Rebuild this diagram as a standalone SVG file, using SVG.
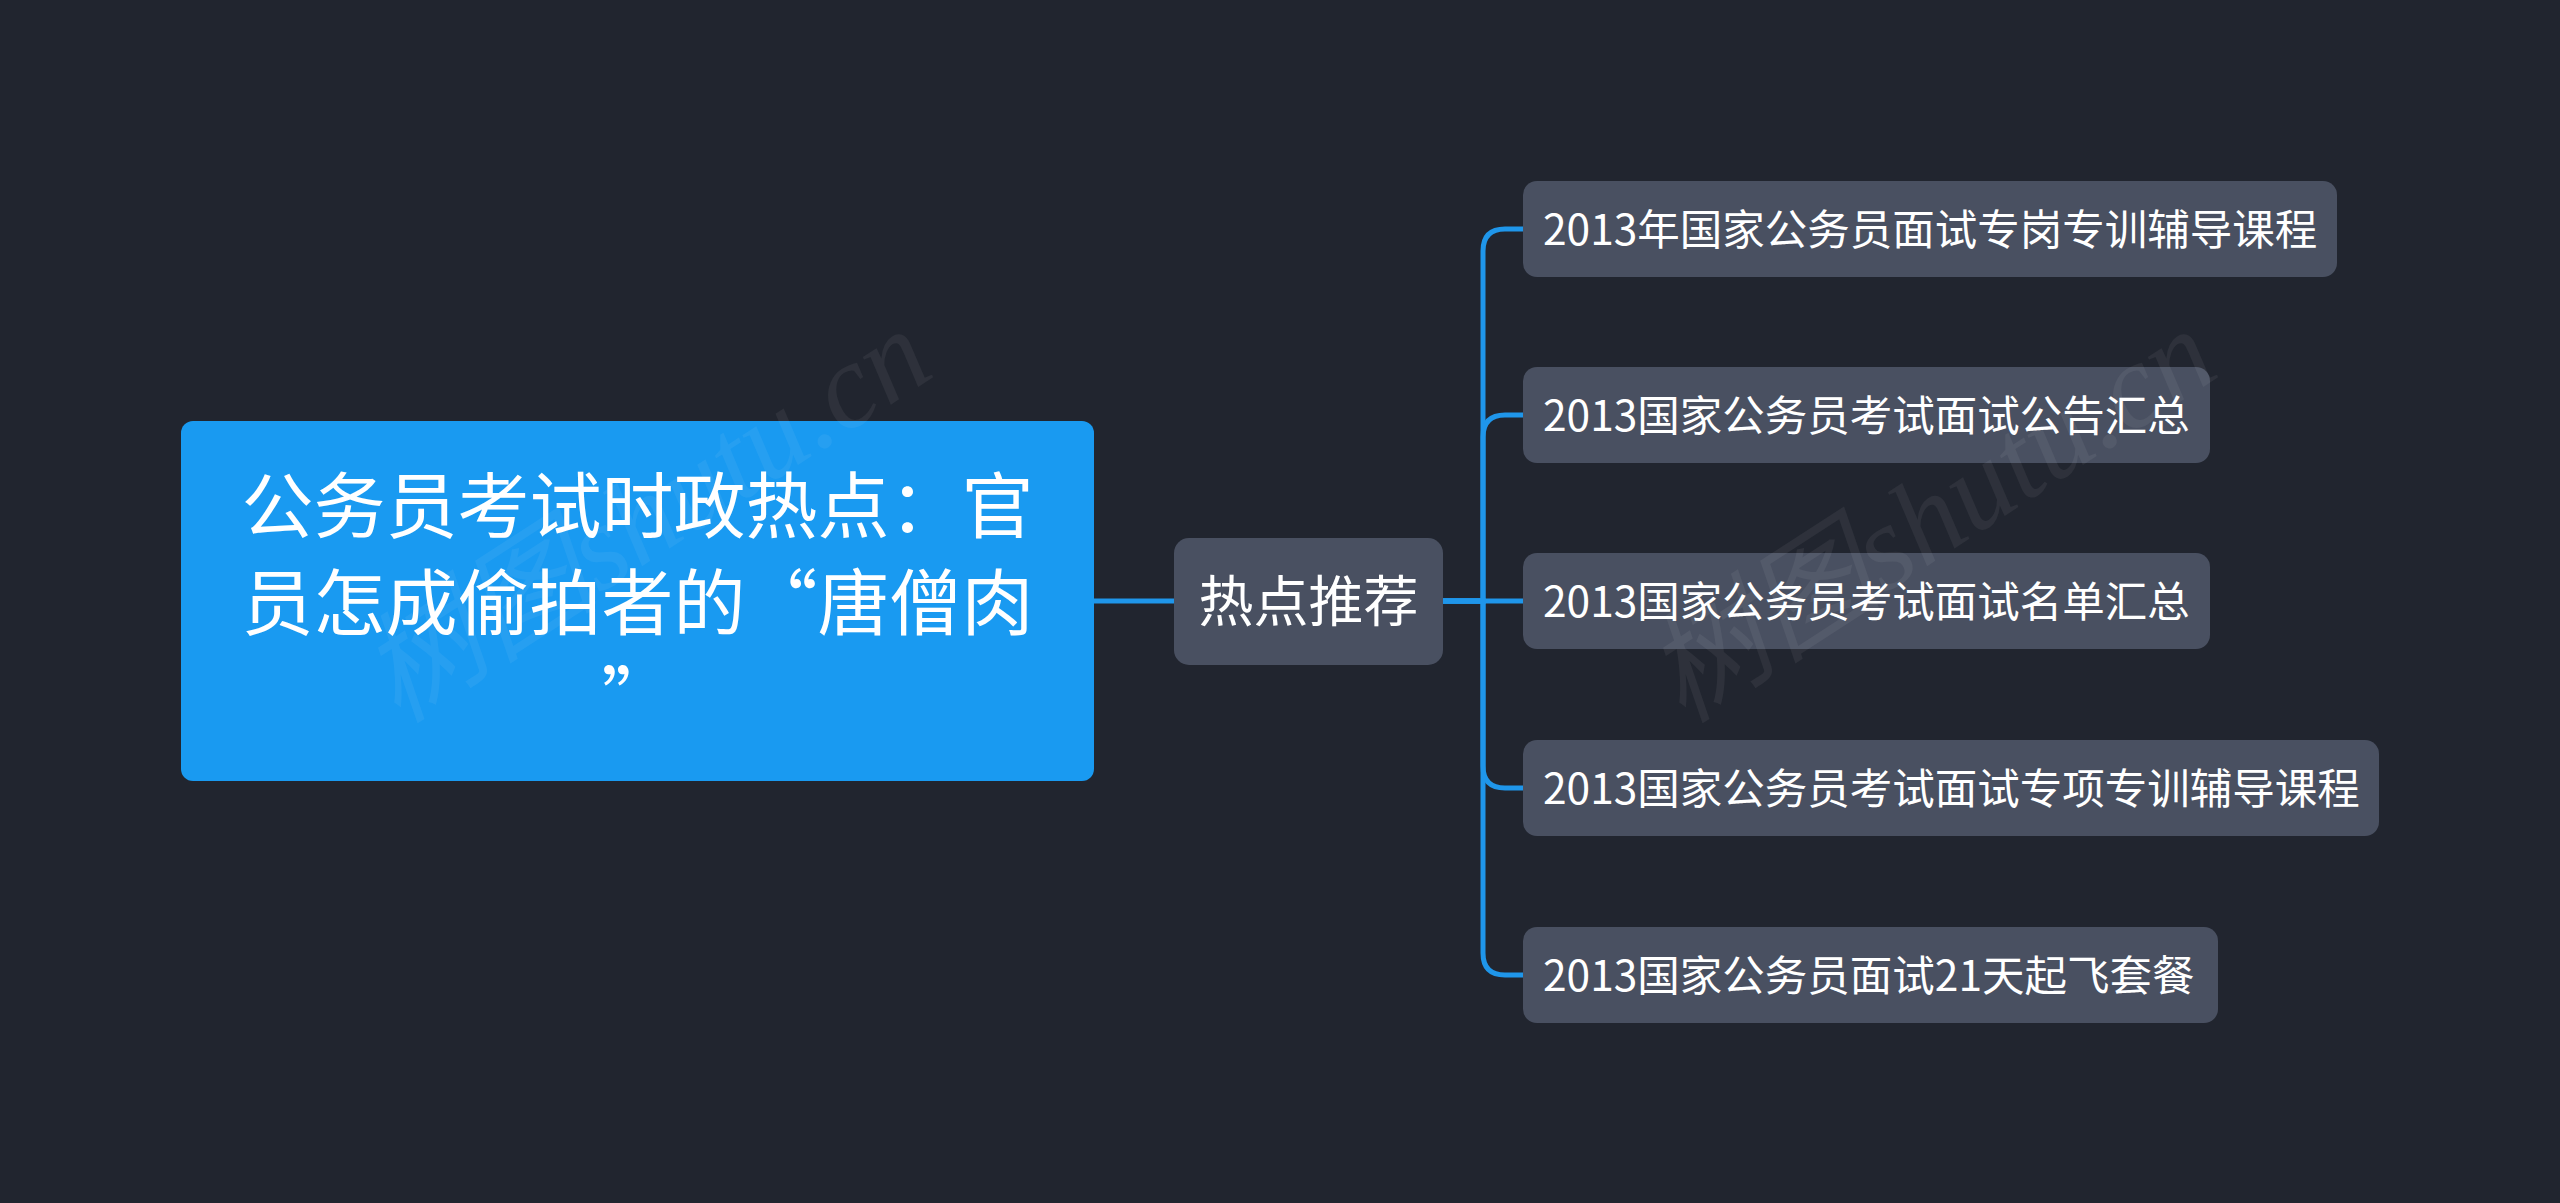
<svg xmlns="http://www.w3.org/2000/svg" width="2560" height="1203" viewBox="0 0 2560 1203">
<style>
.bg{fill:#21252f}
.root{fill:#199af1}
.node{fill:#495061}
.t{fill:#ffffff;font-family:"Noto Sans CJK SC","Noto Sans",sans-serif}
.rt{font-size:72px;text-anchor:middle}
.mt{font-size:55px;text-anchor:middle}
.lt{font-size:42.5px}
.link{fill:none;stroke:#1f96ea;stroke-width:5;stroke-linecap:round}
.wm{fill:#ffffff;fill-opacity:0.06;font-family:"Liberation Serif","Noto Sans CJK SC",serif;font-style:italic;font-size:120px;text-anchor:middle}
</style>
<rect class="bg" x="0" y="0" width="2560" height="1203"/>
<g id="connectors">
<path class="link" d="M1094 601 H1174"/>
<path class="link" d="M1443 601 H1483 V251 Q1483 229 1505 229 H1523"/>
<path class="link" d="M1443 601 H1483 V437 Q1483 415 1505 415 H1523"/>
<path class="link" d="M1443 601 H1523"/>
<path class="link" d="M1443 601 H1483 V766 Q1483 788 1505 788 H1523"/>
<path class="link" d="M1443 601 H1483 V953 Q1483 975 1505 975 H1523"/>
</g>
<g id="root">
<rect class="root" x="181" y="421" width="913" height="360" rx="12"/>
<text class="t rt" lang="zh-CN" x="637.5" y="532">公务员考试时政热点：官</text>
<text class="t rt" lang="zh-CN" x="637.5" y="629">员怎成偷拍者的“唐僧肉</text>
<text class="t rt" lang="zh-CN" x="637.5" y="726">”</text>
</g>
<g id="hot">
<rect class="node" x="1174" y="538" width="269" height="127" rx="15"/>
<text class="t mt" lang="zh-CN" x="1308.5" y="621">热点推荐</text>
</g>
<g id="leaf1">
<rect class="node" x="1523" y="181" width="814" height="96" rx="14"/>
<text class="t lt" lang="zh-CN" x="1543" y="245">2013年国家公务员面试专岗专训辅导课程</text>
</g>
<g id="leaf2">
<rect class="node" x="1523" y="367" width="687" height="96" rx="14"/>
<text class="t lt" lang="zh-CN" x="1543" y="431">2013国家公务员考试面试公告汇总</text>
</g>
<g id="leaf3">
<rect class="node" x="1523" y="553" width="687" height="96" rx="14"/>
<text class="t lt" lang="zh-CN" x="1543" y="617">2013国家公务员考试面试名单汇总</text>
</g>
<g id="leaf4">
<rect class="node" x="1523" y="740" width="856" height="96" rx="14"/>
<text class="t lt" lang="zh-CN" x="1543" y="804">2013国家公务员考试面试专项专训辅导课程</text>
</g>
<g id="leaf5">
<rect class="node" x="1523" y="927" width="695" height="96" rx="14"/>
<text class="t lt" lang="zh-CN" x="1543" y="991">2013国家公务员面试21天起飞套餐</text>
</g>
<g id="watermarks">
<text class="wm" x="646" y="556" transform="rotate(-33 646 516)">树图shutu.cn</text>
<text class="wm" x="1931" y="556" transform="rotate(-33 1931 516)">树图shutu.cn</text>
</g>
</svg>
